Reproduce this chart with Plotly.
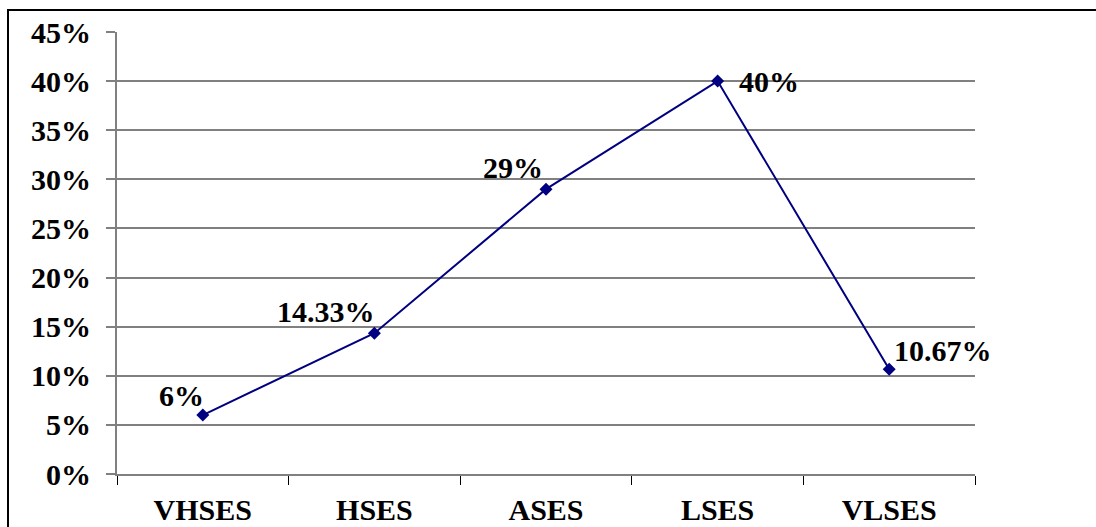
import plotly.graph_objects as go

categories = ["VHSES", "HSES", "ASES", "LSES", "VLSES"]
values = [6, 14.33, 29, 40, 10.67]
value_labels = ["6%", "14.33%", "29%", "40%", "10.67%"]
y_ticks = [0, 5, 10, 15, 20, 25, 30, 35, 40, 45]

FONT = dict(family="Liberation Serif, Times New Roman, serif", size=30, color="black", weight="bold")
NAVY = "#000080"
GRAY = "#808080"

fig = go.Figure()
fig.add_trace(go.Scatter(
    x=categories, y=values, mode="lines+markers",
    line=dict(color=NAVY, width=2),
    marker=dict(symbol="diamond", size=10, color=NAVY),
    hoverinfo="skip", showlegend=False,
))

# label placement (anchor, xshift, yshift) per point
placement = [
    ("right", 3, 20),
    ("right", 3, 22),
    ("right", -1, 22),
    ("left", 19, 0),
    ("left", 3, 19),
]
for cat, val, lab, (anc, xs, ys) in zip(categories, values, value_labels, placement):
    fig.add_annotation(x=cat, y=val, text=f"<b>{lab}</b>", showarrow=False,
                       xanchor=anc, yanchor="middle", xshift=xs, yshift=ys,
                       font=FONT)

fig.update_xaxes(
    type="category", range=[-0.5, 4.5], automargin=False,
    tickvals=categories, ticktext=[f"<b>{c}</b>" for c in categories],
    tickson="boundaries", ticks="outside", ticklen=9, tickcolor="black", tickwidth=1,
    showgrid=False, showline=True, linecolor=GRAY, linewidth=2,
    tickfont=FONT, ticklabelstandoff=8, zeroline=False,
)
fig.update_yaxes(
    range=[0, 45], tickvals=y_ticks, ticktext=[f"<b>{v}%</b>" for v in y_ticks],
    automargin=False,
    ticks="outside", ticklen=9, tickcolor=GRAY, tickwidth=2,
    showgrid=True, gridcolor=GRAY, gridwidth=2,
    showline=True, linecolor=GRAY, linewidth=2,
    tickfont=FONT, ticklabelstandoff=9, zeroline=False,
)

fig.add_shape(type="rect", xref="paper", yref="paper",
              x0=(8 - 117) / 858, x1=1.3, y0=-0.3, y1=(474 - 10) / 442,
              line=dict(color="black", width=2), fillcolor="rgba(0,0,0,0)", layer="above")

fig.update_layout(
    width=1096, height=527,
    margin=dict(l=117, r=121, t=32, b=53),
    paper_bgcolor="white", plot_bgcolor="white",
    font=FONT,
)

fig.write_html("out.html")
